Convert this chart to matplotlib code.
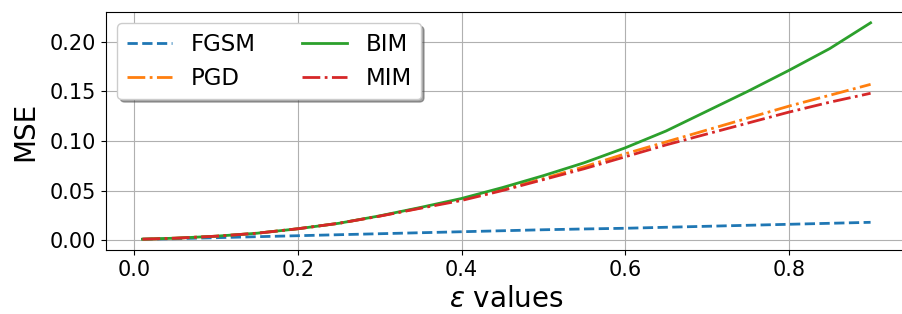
import matplotlib
matplotlib.use("Agg")
import matplotlib.pyplot as plt

eps = [0.01, 0.05, 0.1, 0.15, 0.2, 0.25, 0.3, 0.35, 0.4, 0.45,
       0.5, 0.55, 0.6, 0.65, 0.7, 0.75, 0.8, 0.85, 0.9]

fgsm = [0.001, 0.0015, 0.0025, 0.0035, 0.0045, 0.0055, 0.0065, 0.0075, 0.0085, 0.0095,
        0.0105, 0.0113, 0.012, 0.013, 0.014, 0.015, 0.016, 0.017, 0.018]
pgd = [0.001, 0.002, 0.004, 0.007, 0.0115, 0.017, 0.0243, 0.0325, 0.041, 0.051,
       0.062, 0.074, 0.087, 0.099, 0.111, 0.123, 0.135, 0.146, 0.157]
bim = [0.001, 0.002, 0.004, 0.007, 0.0115, 0.017, 0.0245, 0.033, 0.042, 0.053,
       0.065, 0.078, 0.093, 0.11, 0.13, 0.15, 0.171, 0.193, 0.219]
mim = [0.001, 0.002, 0.004, 0.007, 0.0115, 0.017, 0.0242, 0.0322, 0.040, 0.050,
       0.061, 0.072, 0.084, 0.096, 0.107, 0.118, 0.129, 0.139, 0.148]

fig = plt.figure(figsize=(9.02, 3.14), dpi=100)
ax = fig.add_axes([106/902, 64/314, 801/902, 238/314])

ax.plot(eps, fgsm, linestyle='--', linewidth=2, color='tab:blue', label='FGSM')
ax.plot(eps, pgd, linestyle='-.', linewidth=2, color='tab:orange', label='PGD')
ax.plot(eps, bim, linestyle='-', linewidth=2, color='tab:green', label='BIM')
ax.plot(eps, mim, linestyle='-.', linewidth=2, color='tab:red', label='MIM')

ax.grid(True, color='#b0b0b0', linewidth=0.8)
ax.tick_params(labelsize=15)
ax.set_xlabel(r'$\varepsilon$ values', fontsize=20)
ax.set_ylabel('MSE', fontsize=20, labelpad=8)
ax.set_xticks([0.0, 0.2, 0.4, 0.6, 0.8])
ax.set_yticks([0.0, 0.05, 0.1, 0.15, 0.2])

ax.legend(loc='upper left', ncol=2, shadow=True, fontsize=16.5)

fig.savefig("out.png", dpi=100)
